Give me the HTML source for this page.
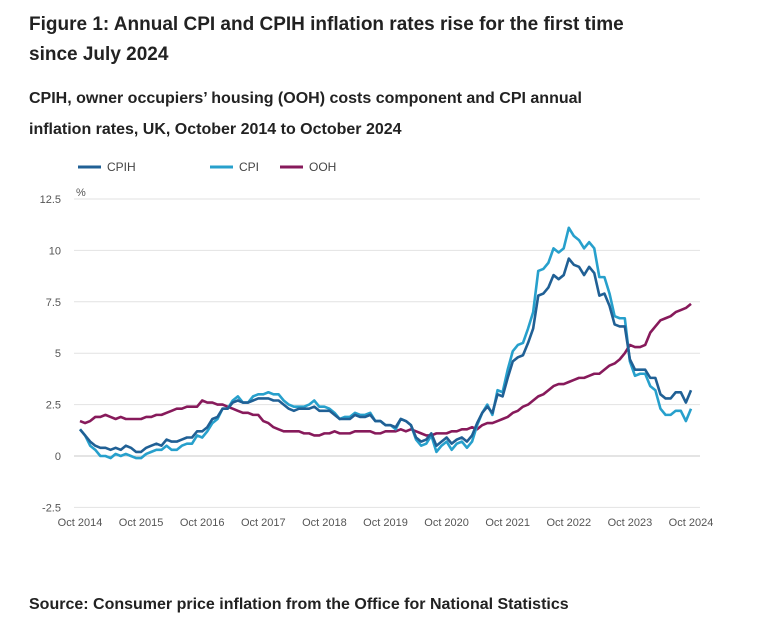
<!DOCTYPE html>
<html><head><meta charset="utf-8"><style>
body{margin:0;width:767px;height:629px;background:#fff;font-family:"Liberation Sans",sans-serif;color:#222;overflow:hidden;position:relative}
.t{position:absolute;left:29px;font-weight:bold;margin:0}
</style></head><body>
<h1 class="t" style="top:10px;font-size:19px;line-height:30px;width:620px">Figure 1: Annual CPI and CPIH inflation rates rise for the first time since July 2024</h1>
<h2 class="t" style="top:83px;font-size:16px;line-height:31px;width:590px">CPIH, owner occupiers’ housing (OOH) costs component and CPI annual inflation rates, UK, October 2014 to October 2024</h2>
<p class="t" style="top:596px;font-size:16px">Source: Consumer price inflation from the Office for National Statistics</p>
<svg id="c" width="767" height="629" style="position:absolute;left:0;top:0" font-family="Liberation Sans, sans-serif"></svg>
<script>
const cpih=[1.3,1.0,0.7,0.5,0.4,0.4,0.3,0.4,0.3,0.5,0.4,0.2,0.2,0.4,0.5,0.6,0.5,0.8,0.7,0.7,0.8,0.9,0.9,1.2,1.2,1.4,1.8,1.9,2.3,2.3,2.6,2.7,2.6,2.6,2.7,2.8,2.8,2.8,2.7,2.7,2.5,2.3,2.2,2.3,2.3,2.3,2.4,2.2,2.2,2.2,2.0,1.8,1.8,1.8,2.0,1.9,1.9,2.0,1.7,1.7,1.5,1.5,1.4,1.8,1.7,1.5,0.9,0.7,0.8,1.1,0.5,0.7,0.9,0.6,0.8,0.9,0.7,1.0,1.6,2.1,2.4,2.1,3.0,2.9,3.8,4.6,4.8,4.9,5.5,6.2,7.8,7.9,8.2,8.8,8.6,8.8,9.6,9.3,9.2,8.8,9.2,8.9,7.8,7.9,7.3,6.4,6.3,6.3,4.7,4.2,4.2,4.2,3.8,3.8,3.0,2.8,2.8,3.1,3.1,2.6,3.2];
const cpi=[1.3,1.0,0.5,0.3,0.0,0.0,-0.1,0.1,0.0,0.1,0.0,-0.1,-0.1,0.1,0.2,0.3,0.3,0.5,0.3,0.3,0.5,0.6,0.6,1.0,0.9,1.2,1.6,1.8,2.3,2.3,2.7,2.9,2.6,2.6,2.9,3.0,3.0,3.1,3.0,3.0,2.7,2.5,2.4,2.4,2.4,2.5,2.7,2.4,2.4,2.3,2.1,1.8,1.9,1.9,2.1,2.0,2.0,2.1,1.7,1.7,1.5,1.5,1.3,1.8,1.7,1.5,0.8,0.5,0.6,1.0,0.2,0.5,0.7,0.3,0.6,0.7,0.4,0.7,1.5,2.1,2.5,2.0,3.2,3.1,4.2,5.1,5.4,5.5,6.2,7.0,9.0,9.1,9.4,10.1,9.9,10.1,11.1,10.7,10.5,10.1,10.4,10.1,8.7,8.7,7.9,6.8,6.7,6.7,4.6,3.9,4.0,4.0,3.4,3.2,2.3,2.0,2.0,2.2,2.2,1.7,2.3];
const ooh=[1.7,1.6,1.7,1.9,1.9,2.0,1.9,1.8,1.9,1.8,1.8,1.8,1.8,1.9,1.9,2.0,2.0,2.1,2.2,2.3,2.3,2.4,2.4,2.4,2.7,2.6,2.6,2.5,2.5,2.4,2.3,2.2,2.1,2.1,2.0,2.0,1.7,1.6,1.4,1.3,1.2,1.2,1.2,1.2,1.1,1.1,1.0,1.0,1.1,1.1,1.2,1.1,1.1,1.1,1.2,1.2,1.2,1.2,1.1,1.1,1.2,1.2,1.2,1.3,1.2,1.3,1.2,1.1,1.0,1.0,1.1,1.1,1.1,1.2,1.2,1.3,1.3,1.4,1.3,1.5,1.6,1.6,1.7,1.8,1.9,2.1,2.2,2.4,2.5,2.7,2.9,3.0,3.2,3.4,3.5,3.5,3.6,3.7,3.8,3.8,3.9,4.0,4.0,4.2,4.4,4.5,4.7,5.0,5.4,5.3,5.3,5.4,6.0,6.3,6.6,6.7,6.8,7.0,7.1,7.2,7.4];
const yTicks=[-2.5,0,2.5,5,7.5,10,12.5];
const xLabels=["Oct 2014","Oct 2015","Oct 2016","Oct 2017","Oct 2018","Oct 2019","Oct 2020","Oct 2021","Oct 2022","Oct 2023","Oct 2024"];
const seriesNames=["CPIH","CPI","OOH"];
const colors=["#206095","#27a0cc","#871a5b"];
const NS="http://www.w3.org/2000/svg",svg=document.getElementById('c');
const X=i=>80+i*(611/120), Y=v=>456-v*20.56;
function mk(t,a,txt){const e=document.createElementNS(NS,t);for(const k in a)e.setAttribute(k,a[k]);if(txt!=null)e.textContent=txt;svg.appendChild(e);return e;}
yTicks.forEach(v=>{
 const g=mk('line',{x1:74,x2:700,y1:Y(v),y2:Y(v),stroke:v===0?'#c8c8c8':'#e2e2e2','stroke-width':1});
 
 
 const t=mk('text',{x:61,y:Y(v)+4,'text-anchor':'end','font-size':11,fill:'#555'},String(v));
 
 
});
xLabels.forEach((l,k)=>{
 const t=mk('text',{x:X(k*12),y:526,'text-anchor':'middle','font-size':11,fill:'#555'},l);
 
 
});
const u=mk('text',{x:76,y:196,'font-size':11,fill:'#555'},'%');


[ooh,cpi,cpih].forEach((s,j)=>{
 const idx=2-j;
 const p=mk('polyline',{points:s.map((v,i)=>X(i)+','+Y(v)).join(' '),fill:'none',stroke:colors[idx],'stroke-width':2.6,'stroke-linejoin':'round'});
 
 
});
[78,210,280].forEach((lx,i)=>{
 const l=mk('line',{x1:lx,x2:lx+23,y1:167,y2:167,stroke:colors[i],'stroke-width':3});
 
 
 const t=mk('text',{x:lx+29,y:171,'font-size':12,fill:'#444'},seriesNames[i]);
 
 
});
</script>
</body></html>
